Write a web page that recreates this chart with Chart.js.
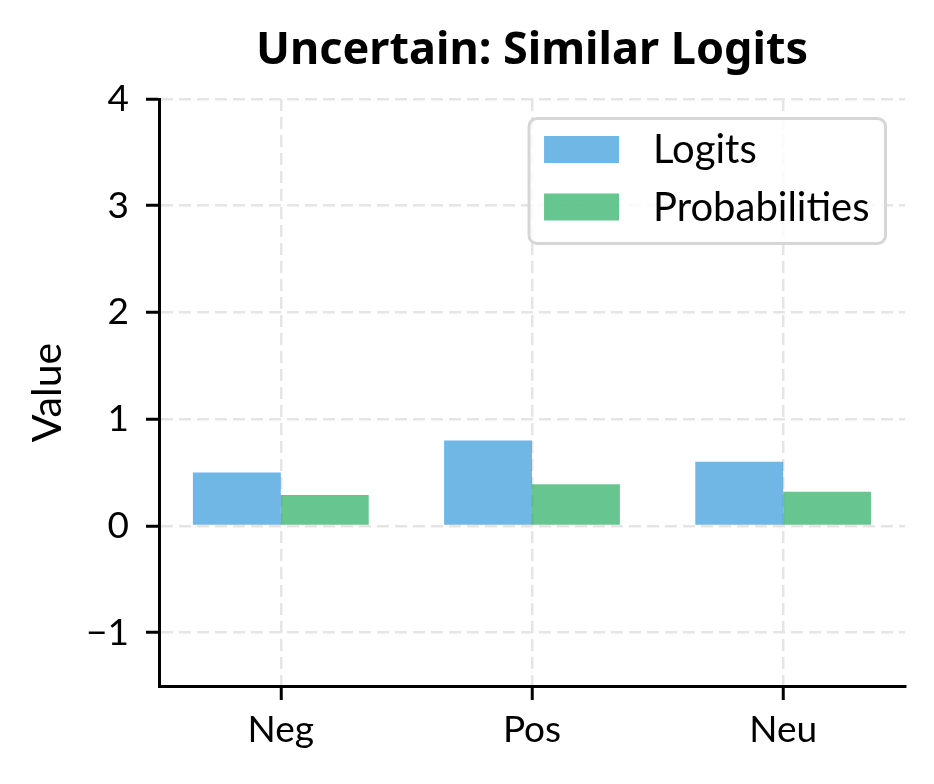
<!DOCTYPE html>
<html>
<head>
<meta charset="utf-8">
<script src="https://cdn.jsdelivr.net/npm/chart.js@4"></script>
<style>
  html, body { margin: 0; padding: 0; background: #fff; }
  #wrap { width: 934px; height: 784px; }
</style>
</head>
<body>
<div id="wrap"><canvas id="chart" width="934" height="784"></canvas></div>
<script>
const categories = ['Neg', 'Pos', 'Neu'];
const logits = [0.5, 0.8, 0.6];
const probabilities = [0.29, 0.39, 0.32];
const yTicks = [-1, 0, 1, 2, 3, 4];
const seriesLabels = ['Logits', 'Probabilities'];
const titleText = 'Uncertain: Similar Logits';
const yLabel = 'Value';

const FONT = 'Lato';
const blue = 'rgba(52, 152, 219, 0.7)';
const green = 'rgba(39, 174, 96, 0.7)';

// bars sit on a numeric x axis so the margins match (x = category index)
const toPoints = vals => vals.map((v, i) => ({ x: i, y: v }));

// title centred over the plot area
const axTitle = {
  id: 'axTitle',
  afterDraw(chart) {
    const {ctx, chartArea} = chart;
    ctx.save();
    ctx.font = 'bold 45px "Noto Sans"';
    ctx.fillStyle = '#000';
    ctx.textAlign = 'center';
    ctx.textBaseline = 'alphabetic';
    ctx.fillText(titleText, (chartArea.left + chartArea.right) / 2, 64);
    ctx.restore();
  }
};

// framed legend, upper right inside the axes
const boxLegend = {
  id: 'boxLegend',
  afterDraw(chart) {
    const {ctx, chartArea} = chart;
    const ds = chart.data.datasets;
    ctx.save();
    ctx.font = `40px ${FONT}`;
    const textW = Math.max(...ds.map(d => ctx.measureText(d.label).width));
    const right = chartArea.right - 19.5, top = chartArea.top + 19.5;
    const w = 15 + 75 + 34 + textW + 16, h = 125;
    const left = right - w;
    ctx.beginPath();
    ctx.roundRect(left, top, w, h, 8);
    ctx.fillStyle = 'rgba(255,255,255,0.8)';
    ctx.fill();
    ctx.lineWidth = 3;
    ctx.strokeStyle = '#d6d6d6';
    ctx.stroke();
    ds.forEach((d, i) => {
      const y = top + 17.5 + i * 57.5;
      ctx.fillStyle = d.backgroundColor;
      ctx.fillRect(left + 15, y, 75, 27);
      ctx.fillStyle = '#000';
      ctx.textBaseline = 'alphabetic';
      ctx.fillText(d.label, left + 15 + 75 + 34, y + 27);
    });
    ctx.restore();
  }
};

const gridOpts = {
  offset: false,
  color: '#e5e5e5',
  lineWidth: 2.5,
  tickColor: '#000',
  tickWidth: 3,
  tickBorderDash: []
};
const borderOpts = { display: true, color: '#000', width: 3, dash: [12, 6] };

const chart = new Chart(document.getElementById('chart'), {
  type: 'bar',
  data: {
    datasets: [
      { label: seriesLabels[0], data: toPoints(logits), backgroundColor: blue },
      { label: seriesLabels[1], data: toPoints(probabilities), backgroundColor: green }
    ]
  },
  options: {
    responsive: false,
    animation: false,
    devicePixelRatio: 1,
    layout: { padding: { top: 99, right: 29, bottom: 0, left: 0 } },
    datasets: {
      bar: { borderWidth: 0, categoryPercentage: 0.7, barPercentage: 1 }
    },
    plugins: {
      legend: { display: false },
      title: { display: false },
      tooltip: { enabled: false }
    },
    scales: {
      x: {
        type: 'linear',
        min: -0.485,
        max: 2.485,
        offset: false,
        afterBuildTicks(scale) { scale.ticks = categories.map((c, i) => ({ value: i })); },
        grid: { ...gridOpts, tickLength: 14 },
        border: borderOpts,
        ticks: {
          color: '#000',
          font: { family: FONT, size: 37 },
          padding: 8,
          maxRotation: 0,
          autoSkip: false,
          callback: v => categories[v]
        },
        afterFit(scale) { scale.height = 98; }
      },
      y: {
        min: -1.5,
        max: 4,
        afterBuildTicks(scale) { scale.ticks = yTicks.map(v => ({ value: v })); },
        grid: { ...gridOpts, tickLength: 13 },
        border: borderOpts,
        ticks: {
          color: '#000',
          font: { family: FONT, size: 37 },
          padding: 17,
          callback: v => String(v).replace('-', '\u2212')
        },
        title: {
          display: true,
          text: yLabel,
          color: '#000',
          font: { family: FONT, size: 41 },
          padding: { top: 23, bottom: 0 }
        },
        afterFit(scale) { scale.width = 159; }
      }
    }
  },
  plugins: [axTitle, boxLegend]
});
</script>
</body>
</html>
